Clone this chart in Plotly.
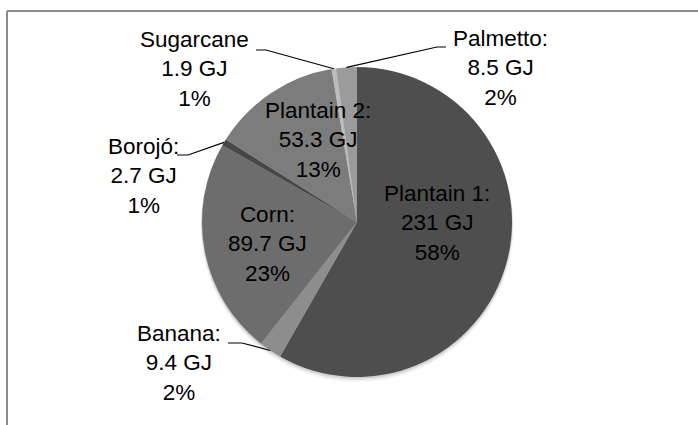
import math
import plotly.graph_objects as go

# ---- data ----
crops = ["Plantain 1", "Banana", "Corn", "Borojó", "Plantain 2", "Sugarcane", "Palmetto"]
energy_gj = [231, 9.4, 89.7, 2.7, 53.3, 1.9, 8.5]
percent_labels = ["58%", "2%", "23%", "1%", "13%", "1%", "2%"]
label_names = ["Plantain 1:", "Banana:", "Corn:", "Borojó:", "Plantain 2:", "Sugarcane", "Palmetto:"]

# ---- styling ----
colors = ["#4e4e4e", "#8d8d8d", "#6d6d6d", "#474747", "#7c7c7c", "#bcbcbc", "#9b9b9b"]
W, H = 698, 425
CX, CY, R = 357, 222, 155
FONT = dict(family="Liberation Sans, Arial, sans-serif", size=22.5, color="#000000")

# label block centres (pixels)
label_pos = {
    "Plantain 1": (437, 223),
    "Banana": (179, 363),
    "Corn": (267, 244),
    "Borojó": (143, 176),
    "Plantain 2": (318, 140),
    "Sugarcane": (194, 69),
    "Palmetto": (500, 68),
}
# leader start / elbow points for outside labels (pixels)
leaders = {
    "Banana": [(228, 343), (242, 343)],
    "Borojó": [(177, 155), (188, 155)],
    "Sugarcane": [(256, 50), (266, 50)],
    "Palmetto": [(446, 47), (437, 47)],
}


def px(x):
    return x / W


def py(y):
    return 1 - y / H


fig = go.Figure(
    go.Pie(
        labels=crops,
        values=energy_gj,
        sort=False,
        direction="clockwise",
        rotation=0,
        textinfo="none",
        hoverinfo="label+value+percent",
        marker=dict(colors=colors, line=dict(width=0)),
        showlegend=False,
        domain=dict(x=[px(CX - R), px(CX + R)], y=[py(CY + R), py(CY - R)]),
    )
)

shapes = []
# soft shadow under the pie
for off, alpha in [(5, 0.05), (3, 0.07), (1.5, 0.08)]:
    shapes.append(dict(type="circle", xref="paper", yref="paper", layer="below",
                       x0=px(CX - R - off * 0.3), x1=px(CX + R + off * 0.3),
                       y0=py(CY + R + off), y1=py(CY - R + off * 0.3),
                       line=dict(width=0), fillcolor=f"rgba(0,0,0,{alpha})"))
# chart frame (top and left edges)
shapes.append(dict(type="line", xref="paper", yref="paper", x0=px(7), x1=1.0, y0=py(11), y1=py(11),
                   line=dict(color="#8c8c8c", width=2)))
shapes.append(dict(type="line", xref="paper", yref="paper", x0=px(7), x1=px(7), y0=py(11), y1=0,
                   line=dict(color="#8c8c8c", width=2)))

total = sum(energy_gj)
cum = 0.0
annotations = []
for name, v, pct, lab in zip(crops, energy_gj, percent_labels, label_names):
    mid = (cum + v / 2) / total * 2 * math.pi
    cum += v
    ex, ey = CX + R * math.sin(mid), CY - R * math.cos(mid)
    lx, ly = label_pos[name]
    annotations.append(dict(
        x=px(lx), y=py(ly), xref="paper", yref="paper", showarrow=False,
        text=f"{lab}<br>{v:g} GJ<br>{pct}", font=FONT, align="center",
        xanchor="center", yanchor="middle",
    ))
    if name in leaders:
        (x0, y0), (x1, y1) = leaders[name]
        path = f"M {px(x0)},{py(y0)} L {px(x1)},{py(y1)} L {px(ex)},{py(ey)}"
        shapes.append(dict(type="path", xref="paper", yref="paper", path=path,
                           line=dict(color="#000000", width=1.2)))

fig.update_layout(
    width=W, height=H,
    margin=dict(l=0, r=0, t=0, b=0),
    paper_bgcolor="white",
    plot_bgcolor="white",
    shapes=shapes,
    annotations=annotations,
)

fig.write_html("out.html")
